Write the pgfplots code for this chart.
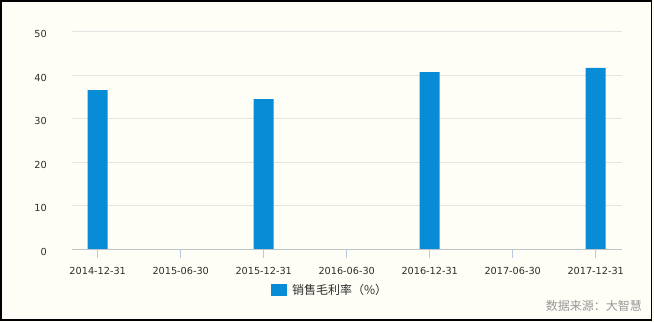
\documentclass[border=0pt]{standalone}
\usepackage{fontspec}
\setmainfont{DejaVu Sans}
\newfontfamily\cjk{Noto Sans CJK SC}
\usepackage{pgfplots}
\pgfplotsset{compat=1.18}

\definecolor{bgcol}{RGB}{255,254,246}
\definecolor{barblue}{RGB}{8,140,213}
\definecolor{gridgray}{RGB}{228,228,228}
\definecolor{axisgray}{RGB}{190,195,200}
\definecolor{tickblue}{RGB}{185,203,222}
\definecolor{labelgray}{RGB}{45,45,45}
\definecolor{srcgray}{RGB}{150,150,150}

\begin{document}
\begin{tikzpicture}
\fill[bgcol] (0,0) rectangle (654bp,322bp);
\begin{axis}[
  at={(71.7bp,72.7bp)}, anchor=south west,
  scale only axis, width=550bp, height=217.6bp,
  xmin=-0.313, xmax=6.313, ymin=0, ymax=50,
  ytick={0,10,...,50},
  xtick={0,...,6},
  xticklabels={2014-12-31,2015-06-30,2015-12-31,2016-06-30,2016-12-31,2017-06-30,2017-12-31},
  axis line style={draw=none},
  ymajorgrids, grid style={draw=gridgray, line width=1bp},
  tick align=outside, xtick pos=bottom, ytick pos=left,
  major tick length=9bp,
  xtick style={draw=tickblue, line width=1bp},
  ytick style={draw=none},
  /pgf/number format/assume math mode=true,
  xticklabel style={font=\fontsize{9.7bp}{11bp}\selectfont, text=labelgray, anchor=base, inner sep=0pt, yshift=-16bp},
  yticklabel style={font=\fontsize{9.7bp}{11bp}\selectfont, text=labelgray, anchor=base east, inner sep=0pt, xshift=-15.7bp, yshift=-6bp},
  legend style={at={(0.362,-0.187)}, anchor=west, draw=none, fill=none, inner sep=0pt,
    font=\cjk\fontsize{12bp}{14bp}\selectfont, text=labelgray,
    nodes={inner sep=0pt}},
  clip=false,
]
\addplot[ybar, bar width=20bp, bar shift=0pt, fill=barblue, draw=none,
  legend image code/.code={\fill[barblue] (0bp,-6bp) rectangle (16bp,6bp); \path (0bp,0bp) -- (21bp,0bp);}]
  coordinates {(0,36.6) (2,34.5) (4,40.7) (6,41.7)};
\addlegendentry{销售毛利率（\%）}
\draw[axisgray, line width=1bp] (rel axis cs:0,0) -- (rel axis cs:1,0);
\end{axis}
\node[anchor=base east, font=\cjk\fontsize{12bp}{14bp}\selectfont, text=srcgray, inner sep=0pt] at (642bp,12bp) {数据来源：大智慧};
\draw[black, line width=1.8bp] (0.9bp,1.8bp) rectangle (651.4bp,321.1bp);
\pgfresetboundingbox
\useasboundingbox (0,0) rectangle (654bp,322bp);
\end{tikzpicture}
\end{document}
